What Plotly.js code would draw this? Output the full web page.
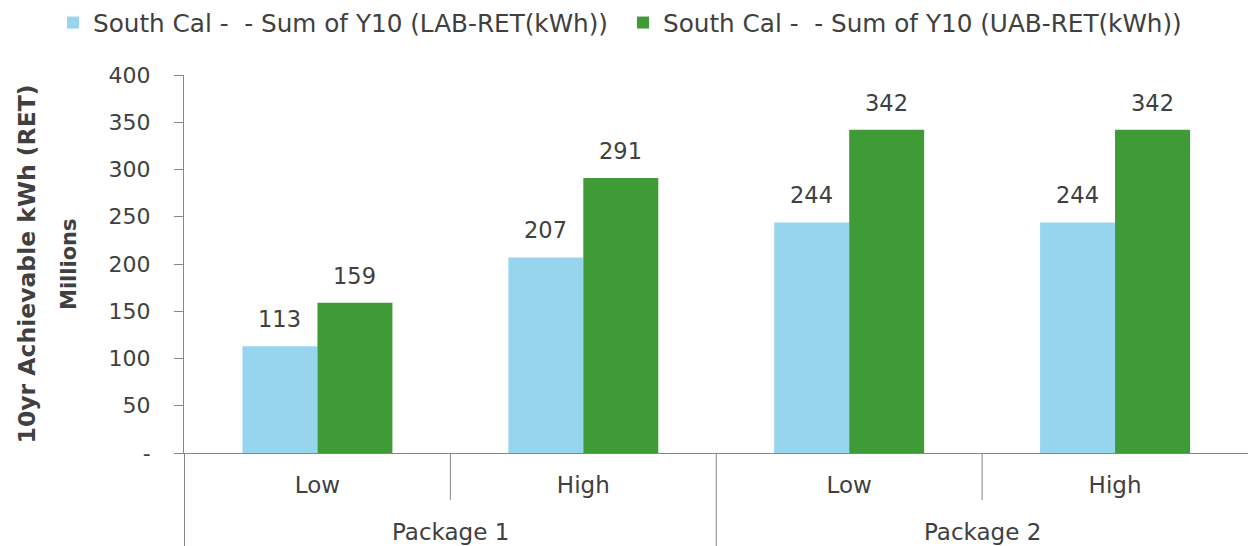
<!DOCTYPE html>
<html>
<head>
<meta charset="utf-8">
<script src="https://cdn.plot.ly/plotly-3.0.1.min.js"></script>
<style>html,body{margin:0;padding:0;background:#fff;}#chart{width:1248px;height:546px;}</style>
</head>
<body>
<div id="chart"></div>
<script>
// ---- data ----
var packages = ["Package 1", "Package 1", "Package 2", "Package 2"];
var levels = ["Low", "High", "Low", "High"];
var seriesNames = ["South Cal -  - Sum of Y10 (LAB-RET(kWh))", "South Cal -  - Sum of Y10 (UAB-RET(kWh))"];
var labValues = [113, 207, 244, 244];
var uabValues = [159, 291, 342, 342];
var yTickVals = [0, 50, 100, 150, 200, 250, 300, 350, 400];
var yTickText = ["-", "50", "100", "150", "200", "250", "300", "350", "400"];
var yTitle = "10yr Achievable kWh (RET)";
var yUnit = "Millions";

// ---- styling ----
var FONT = "DejaVu Sans, Verdana, sans-serif";
var TXT = "#404040";
var AX = "#868686";
var colors = ["#97D4EE", "#3F9B35"];

// unique category keys (package + level), labelled with the level only
var xKeys = packages.map(function (p, i) { return p + " " + levels[i]; });

var traces = [
  {type: "bar", name: seriesNames[0], x: xKeys, y: labValues,
   marker: {color: colors[0]}, hoverinfo: "y", legend: "legend"},
  {type: "bar", name: seriesNames[1], x: xKeys, y: uabValues,
   marker: {color: colors[1]}, hoverinfo: "y", legend: "legend2"}
];

var plotW = 1248 - 184;
var plotH = 546 - 75 - 93;
var catW = plotW / levels.length;
var bargap = 0.436;
var barW = catW * (1 - bargap) / 2;

var annotations = [];
[labValues, uabValues].forEach(function (vals, s) {
  vals.forEach(function (v, i) {
    annotations.push({
      xref: "x", yref: "y", x: i, y: v, text: String(v), showarrow: false,
      xanchor: "center", yanchor: "bottom",
      xshift: (s === 0 ? -1 : 1) * barW / 2, yshift: 12,
      font: {family: FONT, size: 22.5, color: TXT}
    });
  });
});

// outer (package) labels centred under their categories
var pkgNames = [];
packages.forEach(function (p) { if (pkgNames.indexOf(p) < 0) pkgNames.push(p); });
pkgNames.forEach(function (p) {
  var idx = [];
  packages.forEach(function (q, i) { if (q === p) idx.push(i); });
  var mid = (idx[0] + idx[idx.length - 1]) / 2;
  annotations.push({
    xref: "x", yref: "paper", x: mid, y: 0, yshift: -79, text: p, showarrow: false,
    xanchor: "center", yanchor: "middle",
    font: {family: FONT, size: 23, color: TXT}
  });
});

annotations.push({
  xref: "paper", yref: "paper", x: 0, y: 0.5, xshift: -115, text: "<b>" + yUnit + "</b>",
  showarrow: false, textangle: -90, xanchor: "center", yanchor: "middle",
  font: {family: FONT, size: 21, color: TXT}
});

// category dividers below the axis
var shapes = [];
shapes.push({type: "line", xref: "x", yref: "paper", x0: -0.5, x1: -0.5, y0: 0, y1: -93 / plotH,
             line: {color: AX, width: 1}});
for (var i = 0; i < levels.length - 1; i++) {
  var outerBoundary = packages[i] !== packages[i + 1];
  shapes.push({type: "line", xref: "x", yref: "paper", x0: i + 0.5, x1: i + 0.5, y0: 0,
               y1: outerBoundary ? -93 / plotH : -47 / plotH,
               line: {color: AX, width: 1}});
}

var legendBase = {orientation: "h", xref: "container", yref: "container", y: 1.0,
                  xanchor: "left", yanchor: "top",
                  font: {family: FONT, size: 24.7, color: TXT}, bgcolor: "rgba(0,0,0,0)"};

var layout = {
  width: 1248, height: 546,
  margin: {l: 184, r: 0, t: 75, b: 93},
  paper_bgcolor: "#ffffff", plot_bgcolor: "#ffffff",
  barmode: "group", bargap: bargap, bargroupgap: 0,
  font: {family: FONT, size: 22, color: TXT},
  showlegend: true,
  legend: Object.assign({}, legendBase, {x: 53 / 1248}),
  legend2: Object.assign({}, legendBase, {x: 623 / 1248}),
  xaxis: {type: "category", tickmode: "array", tickvals: xKeys, ticktext: levels,
          showline: true, linecolor: AX, linewidth: 1,
          ticks: "", showgrid: false, zeroline: false, ticklabelstandoff: 11,
          tickfont: {family: FONT, size: 23, color: TXT}},
  yaxis: {range: [0, 400], tickvals: yTickVals, ticktext: yTickText,
          showline: true, linecolor: AX, linewidth: 1, ticks: "outside", ticklen: 9,
          tickcolor: AX, showgrid: false, zeroline: false, ticklabelstandoff: 19,
          tickfont: {family: FONT, size: 22, color: TXT},
          title: {text: "<b>" + yTitle + "</b>", standoff: 66,
                  font: {family: FONT, size: 23.5, color: TXT}}},
  annotations: annotations,
  shapes: shapes
};

Plotly.newPlot("chart", traces, layout, {displayModeBar: false, staticPlot: true});
</script>
</body>
</html>
